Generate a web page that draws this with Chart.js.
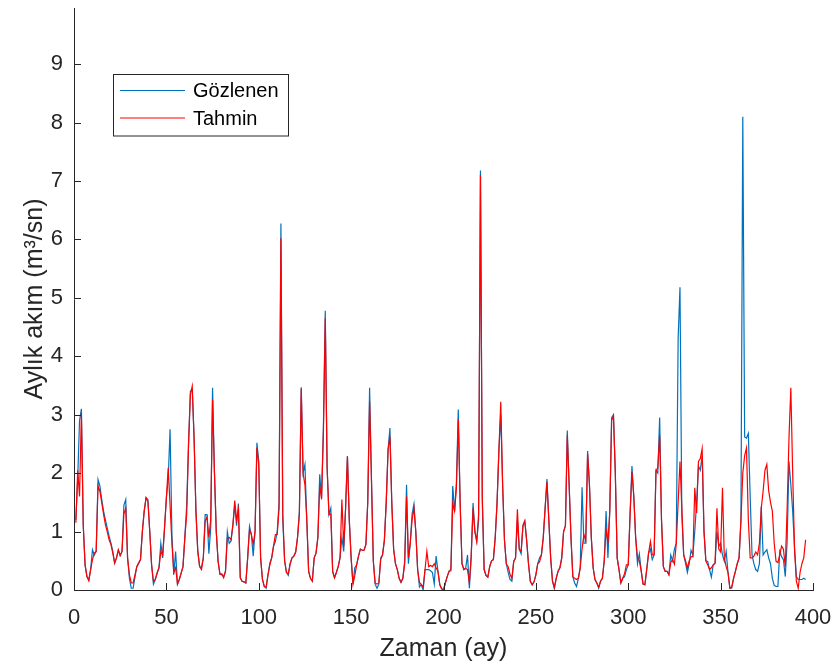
<!DOCTYPE html>
<html><head><meta charset="utf-8">
<script src="https://cdn.jsdelivr.net/npm/chart.js@4.4.0/dist/chart.umd.min.js"></script>
<style>html,body{margin:0;padding:0;background:#fff;}canvas{display:block;}</style>
</head><body>
<canvas id="c" width="835" height="667"></canvas>
<script>
const seriesNames = ['Gözlenen', 'Tahmin'];
const xTitle = 'Zaman (ay)';
const yTitle = 'Aylık akım (m³/sn)';
const xTicks = [0, 50, 100, 150, 200, 250, 300, 350, 400];
const yTicks = [0, 1, 2, 3, 4, 5, 6, 7, 8, 9];
const months = Array.from({length: 396}, (_, i) => i + 1);

const observed = [
1.2,1.9,2.9,3.1,1.1,0.43,0.23,0.17,0.35,0.69,0.6,0.66,
1.89,1.78,1.55,1.35,1.2,1.06,0.92,0.8,0.66,0.46,0.55,0.68,
0.59,0.66,1.45,1.55,0.55,0.2,0.03,0.03,0.22,0.4,0.46,0.52,
1.0,1.35,1.58,1.55,1.0,0.43,0.1,0.18,0.29,0.38,0.8,0.55,
1.06,1.58,1.9,2.75,0.95,0.26,0.66,0.1,0.18,0.29,0.4,0.9,
1.46,2.5,3.4,3.43,2.6,1.35,0.66,0.4,0.38,0.55,1.29,1.29,
0.62,1.06,3.46,2.03,1.0,0.49,0.27,0.26,0.23,0.32,1.0,0.8,
0.84,1.1,1.45,1.1,1.48,0.21,0.15,0.14,0.12,0.55,1.09,0.95,
0.58,1.0,2.52,2.2,0.55,0.18,0.06,0.03,0.26,0.46,0.55,0.75,
0.83,1.0,1.5,6.27,1.2,0.5,0.3,0.25,0.45,0.55,0.58,0.65,
0.9,1.35,3.47,2.0,2.15,1.2,0.32,0.2,0.15,0.55,0.63,0.9,
1.98,1.58,2.8,4.78,2.1,1.29,1.4,0.32,0.21,0.3,0.4,0.55,
0.9,0.66,1.4,2.29,1.2,0.55,0.1,0.38,0.43,0.58,0.7,0.68,
0.68,0.78,1.5,3.46,1.9,0.5,0.1,0.03,0.1,0.55,0.6,0.85,
1.5,2.4,2.77,1.5,0.7,0.45,0.35,0.2,0.13,0.2,0.5,1.8,
0.45,0.8,1.3,1.47,1.0,0.35,0.05,0.09,0.0,0.35,0.35,0.35,
0.33,0.3,0.1,0.58,0.32,0.09,0.02,0.0,0.12,0.23,0.32,0.33,
1.78,1.35,1.85,3.09,1.5,0.45,0.35,0.37,0.6,0.03,0.55,1.49,
1.0,0.83,1.2,7.18,1.5,0.35,0.25,0.22,0.4,0.5,0.52,0.9,
1.5,2.4,3.0,1.8,0.85,0.45,0.3,0.18,0.15,0.49,0.55,1.2,
0.7,0.62,1.1,1.18,0.85,0.45,0.15,0.09,0.14,0.26,0.45,0.55,
0.6,0.9,1.4,1.9,1.2,0.55,0.15,0.02,0.2,0.32,0.38,0.55,
1.0,1.1,2.73,1.8,0.9,0.23,0.12,0.06,0.2,0.38,1.76,0.8,
0.8,2.38,1.8,0.9,0.38,0.18,0.12,0.03,0.15,0.2,0.5,1.35,
0.55,1.35,2.95,3.0,2.0,0.55,0.35,0.12,0.2,0.23,0.35,0.43,
1.3,2.12,1.6,0.9,0.45,0.62,0.33,0.1,0.09,0.35,0.63,0.7,
0.52,0.6,2.05,2.0,2.95,1.2,0.4,0.32,0.32,0.26,0.6,0.5,
0.7,0.8,4.3,5.18,1.3,0.6,0.46,0.3,0.45,0.68,0.6,1.0,
1.5,2.12,2.05,2.3,1.0,0.5,0.49,0.35,0.22,0.43,0.46,1.0,
0.75,0.8,0.6,0.49,0.66,0.3,0.03,0.03,0.2,0.32,0.45,0.55,
1.2,8.1,2.62,2.6,2.68,1.6,0.6,0.45,0.35,0.32,0.45,1.43,
0.6,0.65,0.69,0.55,0.45,0.2,0.08,0.06,0.06,0.66,0.57,0.52,
0.23,0.83,2.2,1.8,1.35,0.72,0.23,0.18,0.18,0.18,0.2,0.18
];

const predicted = [
1.15,2.05,1.6,3.03,1.12,0.43,0.23,0.16,0.35,0.52,0.63,0.66,
1.78,1.69,1.5,1.3,1.12,1.0,0.86,0.78,0.63,0.46,0.55,0.69,
0.59,0.66,1.3,1.4,0.55,0.26,0.12,0.12,0.26,0.4,0.46,0.52,
1.0,1.35,1.58,1.52,1.0,0.43,0.15,0.18,0.29,0.38,0.66,0.6,
1.06,1.58,2.09,1.45,0.8,0.3,0.38,0.1,0.18,0.29,0.4,0.9,
1.3,2.5,3.35,3.49,2.6,1.35,0.66,0.4,0.35,0.55,1.18,1.25,
0.9,1.2,3.26,2.03,1.0,0.49,0.27,0.28,0.21,0.32,0.89,0.9,
0.86,1.12,1.53,1.2,1.38,0.21,0.15,0.14,0.12,0.55,1.03,0.95,
0.78,1.0,2.43,2.15,0.55,0.18,0.06,0.05,0.26,0.43,0.55,0.75,
0.95,0.95,1.4,6.02,1.3,0.5,0.3,0.28,0.45,0.55,0.58,0.65,
0.9,1.3,3.45,2.0,1.8,1.2,0.32,0.2,0.15,0.55,0.63,0.9,
1.8,1.55,2.7,4.65,2.1,1.29,1.3,0.32,0.21,0.3,0.4,0.55,
1.55,0.75,1.4,2.29,1.2,0.55,0.1,0.25,0.43,0.58,0.7,0.68,
0.68,0.78,1.5,3.23,1.9,0.5,0.12,0.1,0.12,0.52,0.6,0.85,
1.5,2.4,2.63,1.5,0.7,0.45,0.35,0.2,0.13,0.2,0.45,1.6,
0.55,0.8,1.2,1.4,1.0,0.35,0.13,0.09,0.05,0.35,0.66,0.4,
0.42,0.4,0.45,0.38,0.32,0.09,0.02,0.0,0.12,0.23,0.32,0.35,
1.49,1.35,1.75,2.92,1.5,0.45,0.35,0.37,0.35,0.12,0.6,1.4,
1.0,0.83,1.3,7.1,1.6,0.35,0.25,0.22,0.4,0.5,0.52,0.9,
1.5,2.4,3.22,1.8,0.85,0.45,0.4,0.27,0.2,0.49,0.55,1.38,
0.7,0.66,1.1,1.18,0.85,0.45,0.15,0.09,0.14,0.26,0.45,0.48,
0.6,0.9,1.4,1.85,1.2,0.55,0.15,0.05,0.2,0.32,0.38,0.55,
1.0,1.1,2.65,1.8,0.9,0.23,0.2,0.18,0.2,0.38,0.7,0.95,
0.85,2.33,1.8,0.9,0.38,0.18,0.12,0.05,0.15,0.2,0.5,1.05,
0.8,1.35,2.9,2.98,2.0,0.55,0.35,0.12,0.2,0.28,0.43,0.43,
1.3,2.02,1.6,0.9,0.55,0.5,0.33,0.1,0.09,0.35,0.63,0.83,
0.6,0.6,2.03,2.1,2.65,1.2,0.4,0.32,0.32,0.26,0.47,0.52,
0.44,0.8,1.5,2.2,1.4,0.6,0.5,0.38,0.5,0.57,0.57,1.75,
1.32,2.2,2.25,2.42,1.0,0.5,0.43,0.35,0.38,0.43,0.46,1.4,
0.7,0.65,1.75,0.55,0.4,0.3,0.03,0.05,0.2,0.32,0.45,0.55,
1.2,2.0,2.3,2.43,1.2,0.55,0.55,0.58,0.65,0.6,0.8,1.4,
1.69,2.05,2.15,1.7,1.5,1.35,0.8,0.49,0.47,0.6,0.75,0.7,
0.4,1.4,2.6,3.46,2.0,0.7,0.15,0.03,0.3,0.45,0.55,0.86
];

const FONT = '"Liberation Sans", Arial, Helvetica, sans-serif';
const INK = '#262626';
const BLUE = '#0072BD';
const RED = '#FF0000';

const decor = {
  id: 'decor',
  afterDraw(chart) {
    const {ctx, chartArea: a, scales: {x, y}} = chart;
    ctx.save();
    ctx.strokeStyle = INK;
    ctx.lineWidth = 1;
    ctx.beginPath();
    xTicks.forEach(v => {
      const px = Math.round(x.getPixelForValue(v)) + 0.5;
      ctx.moveTo(px, a.bottom); ctx.lineTo(px, a.bottom - 7);
    });
    yTicks.forEach(v => {
      const py = Math.round(y.getPixelForValue(v)) + 0.5;
      ctx.moveTo(a.left, py); ctx.lineTo(a.left + 7, py);
    });
    ctx.stroke();
    // legend
    const bx = 113.5, by = 74.5, bw = 175, bh = 61.5;
    ctx.fillStyle = '#fff';
    ctx.fillRect(bx, by, bw, bh);
    ctx.strokeStyle = INK;
    ctx.strokeRect(bx, by, bw, bh);
    const rows = [by + 16, by + 43.5];
    chart.data.datasets.forEach((ds, i) => {
      ctx.strokeStyle = ds.borderColor;
      ctx.lineWidth = ds.borderWidth;
      ctx.beginPath();
      ctx.moveTo(bx + 6.5, rows[i]); ctx.lineTo(bx + 71.5, rows[i]);
      ctx.stroke();
      ctx.fillStyle = '#000';
      ctx.font = '20px ' + FONT;
      ctx.textBaseline = 'middle';
      ctx.textAlign = 'left';
      ctx.fillText(ds.label, bx + 79.5, rows[i] + 1);
    });
    ctx.restore();
  }
};

new Chart(document.getElementById('c'), {
  type: 'line',
  data: {
    datasets: [
      {label: seriesNames[0], data: months.map((m, i) => ({x: m, y: observed[i]})),
       borderColor: BLUE, borderWidth: 1.2, pointRadius: 0, tension: 0, order: 2},
      {label: seriesNames[1], data: months.map((m, i) => ({x: m, y: predicted[i]})),
       borderColor: RED, borderWidth: 1.2, pointRadius: 0, tension: 0, order: 1}
    ]
  },
  options: {
    responsive: false,
    animation: false,
    events: [],
    layout: {padding: {left: 0, right: 22, top: 8, bottom: 0}},
    plugins: {legend: {display: false}, tooltip: {enabled: false}},
    scales: {
      x: {
        type: 'linear', min: 0, max: 400,
        afterBuildTicks: s => { s.ticks = xTicks.map(v => ({value: v})); },
        afterFit: s => { s.height = 77; s.paddingLeft = 0; s.paddingRight = 0; },
        grid: {display: true, drawOnChartArea: false, drawTicks: false},
        border: {display: true, color: INK, width: 1},
        ticks: {color: INK, font: {family: FONT, size: 22}, padding: 15, maxRotation: 0, autoSkip: false},
        title: {display: true, text: xTitle, color: INK, font: {family: FONT, size: 25}, padding: {top: 0, bottom: 3}}
      },
      y: {
        type: 'linear', min: 0, max: 9.96,
        afterBuildTicks: s => { s.ticks = yTicks.map(v => ({value: v})); },
        afterFit: s => { s.width = 74; s.paddingTop = 0; s.paddingBottom = 0; },
        grid: {display: true, drawOnChartArea: false, drawTicks: false},
        border: {display: true, color: INK, width: 1},
        ticks: {color: INK, font: {family: FONT, size: 22}, padding: 11, autoSkip: false},
        title: {display: true, text: yTitle, color: INK, font: {family: FONT, size: 25}, padding: {top: 20, bottom: 0}}
      }
    }
  },
  plugins: [decor]
});
</script>
</body></html>
